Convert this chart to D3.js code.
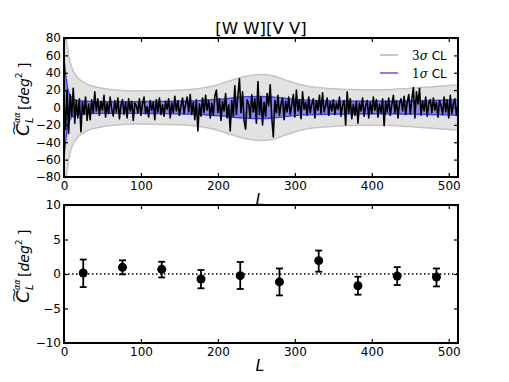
<!DOCTYPE html>
<html>
<head>
<meta charset="utf-8">
<script src="https://cdn.jsdelivr.net/npm/d3@7"></script>
<style>
  body { margin: 0; background: #fff; }
  text { font-family: "DejaVu Sans", sans-serif; }
</style>
</head>
<body>
<svg width="509" height="382"></svg>
<script>
// ---- data ----
var title = "[W W][V V]";

// multipole grid of the top panel (every 2nd L)
var specL = d3.range(0, 513, 2);
var specVals = [
   5, -25,  20, -30,  15, -10,  22, -18,   8, -12,  10, -28,   6,  -8,  12, -15,
   4, -14,   9,  -6,  18,  -4,  10,  -9,   7,  -3,  14, -11,   5,  -7,  12,  -2,
 -10,   8,  -5,  11, -13,   3,   9,  -8,   6, -12,  10,  -4,   7, -15,   5,   2,
  -6,  10,  -9,   4,  12,  -7,   1, -11,   8,  -3,   6, -14,   9,  -5,  11,  -8,
   3, -10,   7,  -2,  10, -12,   5,  -6,  13,  -4,   8,  -9,   2,  11,  -7,   4,
  12,  -5,  15,  -8,   6, -14,   9, -27,   4, -10,  11,  -6,  14,  -3,   8, -12,
   5,  -9,  13,  20,  -6,  10, -15,   7,  -4,  16, -12,   3, -27,   8, -10,  25,
  -8,  14,  33,  -6,  18, -15, -25,   9,   4, -12,  15,  -5,  10, -18,  30,  -8,
  12, -20,   6, -10,  16,   2,  26, -12, -34,   8,  -6,  14,  -9,   4,  11, -14,
   7,  -5,  12,  -8,   3,  15, -11,  20,  -4,   9, -13,  18,  -2,   6,  -9,  12,
  -6,   4,  10, -12,   8,  -3,  14,  -7,  17,  -5,   2,  11,  -9,   6,  -4,   9,
  -8,   5,  -2,  12, -10,   3,   8, -20,  18,  -6,  10, -13,   4,  -9,   7, -18,
   5,  -4,  11, -10,   2,   8, -12,   6,  -7,  12,  -3,   9, -11,   4,  -6,  10,
 -21,   7,  -5,  11,  -9,   3,  14,  -6,   8, -12,   5,  10,  -4,  13,  -8,   6,
  15,  -7,   9,  23, -12,  18,   4,  22,  -9,   7,  -4,  12, -10,   5,   9,  -6,
  11,  -3,   6, -11,   8,   2,  -8,  12,  -5,   9, -12,  14,  -7,   4,  10,  -9,
   3
];

// confidence bands (half widths)
var bandL  = [0, 2, 4, 6, 8, 12, 16, 24, 32, 48, 64, 96, 128, 160, 176, 192, 208, 224, 240, 256, 272, 288, 304, 320, 336, 352, 384, 416, 448, 480, 496, 512];
var sigma3 = [110, 90, 72, 60, 52, 42, 36, 30, 26, 22.5, 20.5, 19, 19.5, 20.5, 22, 24.5, 28.5, 33, 36.5, 38, 36.5, 31.5, 27, 24, 22.5, 21.5, 20.5, 20.5, 22, 24, 25, 26];
var sigma1 = [58, 40, 26, 18, 14, 10, 8.5, 7.5, 7, 6.8, 6.8, 6.8, 7, 7.5, 8, 9, 10, 11.5, 12.5, 12.8, 12, 10.5, 9, 8.2, 7.8, 7.5, 7.2, 7.2, 7.5, 8.2, 8.6, 9];

// binned values of the bottom panel
var binL   = [25, 76, 127, 178, 229, 280, 331, 382, 433, 484];
var binVal = [0.15, 0.97, 0.68, -0.72, -0.24, -1.15, 1.93, -1.7, -0.3, -0.43];
var binLo  = [-1.9, -0.05, -0.5, -2.07, -2.17, -3.1, 0.33, -3.0, -1.6, -1.8];
var binHi  = [2.1, 1.98, 1.78, 0.58, 1.74, 0.8, 3.4, -0.4, 1.0, 0.8];

var xTicks = [0, 100, 200, 300, 400, 500];
var yTicksTop = [-80, -60, -40, -20, 0, 20, 40, 60, 80];
var yTicksBot = [-10, -5, 0, 5, 10];

var legendLabels = ["3\u03c3", "1\u03c3"];

// ---- layout ----
var svg = d3.select("svg");
var left = 64, right = 458;
var top1 = 38, bot1 = 177;
var top2 = 205, bot2 = 343;

var x = d3.scaleLinear().domain([0, 512]).range([left, right]);
var y1 = d3.scaleLinear().domain([-80, 80]).range([bot1, top1]);
var y2 = d3.scaleLinear().domain([-10, 10]).range([bot2, top2]);

svg.append("clipPath").attr("id", "clip1")
    .append("rect").attr("x", left).attr("y", top1)
    .attr("width", right - left).attr("height", bot1 - top1);

// title
svg.append("text")
    .attr("x", 261).attr("y", 34)
    .attr("text-anchor", "middle")
    .attr("font-size", 16.5)
    .text(title);

// ---- top panel ----
var p1 = svg.append("g").attr("clip-path", "url(#clip1)");

function band(s) {
    return d3.area()
        .x(function (d, i) { return x(bandL[i]); })
        .y0(function (d) { return y1(-d); })
        .y1(function (d) { return y1(d); })
        .curve(d3.curveMonotoneX)(s);
}
function edge(s, sign) {
    return d3.line()
        .x(function (d, i) { return x(bandL[i]); })
        .y(function (d) { return y1(sign * d); })
        .curve(d3.curveMonotoneX)(s);
}

p1.append("path").attr("d", band(sigma3)).attr("fill", "#e2e2e2");
[1, -1].forEach(function (sg) {
    p1.append("path").attr("d", edge(sigma3, sg))
        .attr("fill", "none").attr("stroke", "#c4c4c4").attr("stroke-width", 1.5);
});
p1.append("path").attr("d", band(sigma1)).attr("fill", "blue").attr("fill-opacity", 0.4);
[1, -1].forEach(function (sg) {
    p1.append("path").attr("d", edge(sigma1, sg))
        .attr("fill", "none").attr("stroke", "#3838ff").attr("stroke-width", 1.3);
});

p1.append("path")
    .datum(specVals)
    .attr("d", d3.line()
        .x(function (d, i) { return x(specL[i]); })
        .y(function (d) { return y1(d); }))
    .attr("fill", "none")
    .attr("stroke", "#000")
    .attr("stroke-width", 1.6)
    .attr("stroke-linejoin", "round");

// legend
var leg = svg.append("g");
[["#c8c8c8", 55], ["#8080ff", 73]].forEach(function (d, i) {
    leg.append("line")
        .attr("x1", 380).attr("x2", 398)
        .attr("y1", d[1]).attr("y2", d[1])
        .attr("stroke", d[0]).attr("stroke-width", 2);
    var t = leg.append("text").attr("x", 412).attr("y", d[1] + 4.5).attr("font-size", 12);
    t.append("tspan").attr("font-family", "DejaVu Serif").text(legendLabels[i].charAt(0));
    t.append("tspan").attr("font-family", "DejaVu Serif").attr("font-style", "italic").text(legendLabels[i].charAt(1));
    t.append("tspan").text(" CL");
});

// ---- bottom panel ----
var p2 = svg.append("g");
p2.append("line")
    .attr("x1", left).attr("x2", right)
    .attr("y1", y2(0)).attr("y2", y2(0))
    .attr("stroke", "#000").attr("stroke-width", 1.5)
    .attr("stroke-dasharray", "1.5,2.5");

var pts = p2.selectAll("g.pt").data(binL).enter().append("g").attr("class", "pt");
pts.append("line")
    .attr("x1", function (d) { return x(d); }).attr("x2", function (d) { return x(d); })
    .attr("y1", function (d, i) { return y2(binLo[i]); })
    .attr("y2", function (d, i) { return y2(binHi[i]); })
    .attr("stroke", "#000").attr("stroke-width", 1.8);
[binLo, binHi].forEach(function (arr) {
    pts.append("line")
        .attr("x1", function (d) { return x(d) - 3.5; }).attr("x2", function (d) { return x(d) + 3.5; })
        .attr("y1", function (d, i) { return y2(arr[i]); })
        .attr("y2", function (d, i) { return y2(arr[i]); })
        .attr("stroke", "#000").attr("stroke-width", 1.8);
});
pts.append("circle")
    .attr("cx", function (d) { return x(d); })
    .attr("cy", function (d, i) { return y2(binVal[i]); })
    .attr("r", 4.5)
    .attr("fill", "#000");

// ---- axes ----
function axes(y, top, bot, yTicks) {
    var g = svg.append("g");
    g.append("g").attr("transform", "translate(0," + bot + ")")
        .call(d3.axisBottom(x).tickValues(xTicks).tickSizeInner(-4).tickSizeOuter(0).tickPadding(4.5));
    g.append("g").attr("transform", "translate(0," + top + ")")
        .call(d3.axisTop(x).tickValues(xTicks).tickSizeInner(-4).tickSizeOuter(0).tickFormat(""));
    g.append("g").attr("transform", "translate(" + left + ",0)")
        .call(d3.axisLeft(y).tickValues(yTicks).tickSizeInner(-4).tickSizeOuter(0).tickPadding(3));
    g.append("g").attr("transform", "translate(" + right + ",0)")
        .call(d3.axisRight(y).tickValues(yTicks).tickSizeInner(-4).tickSizeOuter(0).tickFormat(""));
    g.selectAll(".domain").remove();
    g.selectAll(".tick line").attr("stroke-width", 1.2);
    g.selectAll(".tick text").attr("font-size", 12).attr("fill", "#000")
        .attr("font-family", "DejaVu Sans, sans-serif");
    g.append("rect")
        .attr("x", left).attr("y", top)
        .attr("width", right - left).attr("height", bot - top)
        .attr("fill", "none").attr("stroke", "#000").attr("stroke-width", 2);
}
axes(y1, top1, bot1, yTicksTop);
axes(y2, top2, bot2, yTicksBot);

// x labels
[205, 371].forEach(function (yy) {
    svg.append("text")
        .attr("x", 260).attr("y", yy)
        .attr("text-anchor", "middle")
        .attr("font-family", "DejaVu Serif")
        .attr("font-style", "italic")
        .attr("font-size", 16)
        .text("L");
});

// y labels
function yLabel(cy) {
    var g = svg.append("g").attr("transform", "translate(29," + cy + ") rotate(-90)");
    g.append("text").attr("x", -33).attr("y", 0)
        .attr("font-family", "DejaVu Serif").attr("font-style", "italic")
        .attr("font-size", 18).text("C");
    // wide tilde over the C
    g.append("text")
        .attr("transform", "translate(-25,-11) scale(1.5,0.9)")
        .attr("text-anchor", "middle")
        .attr("font-family", "DejaVu Serif").attr("font-size", 13)
        .text("~");
    g.append("text").attr("x", -20).attr("y", -9)
        .attr("font-family", "DejaVu Serif").attr("font-style", "italic")
        .attr("font-size", 8).text("\u03b1\u03b1");
    g.append("text").attr("x", -20).attr("y", 4)
        .attr("font-family", "DejaVu Serif").attr("font-style", "italic")
        .attr("font-size", 10).text("L");
    var t = g.append("text").attr("x", -7).attr("y", 0)
        .attr("font-family", "DejaVu Serif").attr("font-size", 14);
    t.append("tspan").text("[");
    t.append("tspan").attr("font-style", "italic").text("deg");
    t.append("tspan").attr("font-size", 9).attr("dy", -7).text("2");
    t.append("tspan").attr("dy", 7).text(" ]");
}
yLabel(103);
yLabel(270);
</script>
</body>
</html>
